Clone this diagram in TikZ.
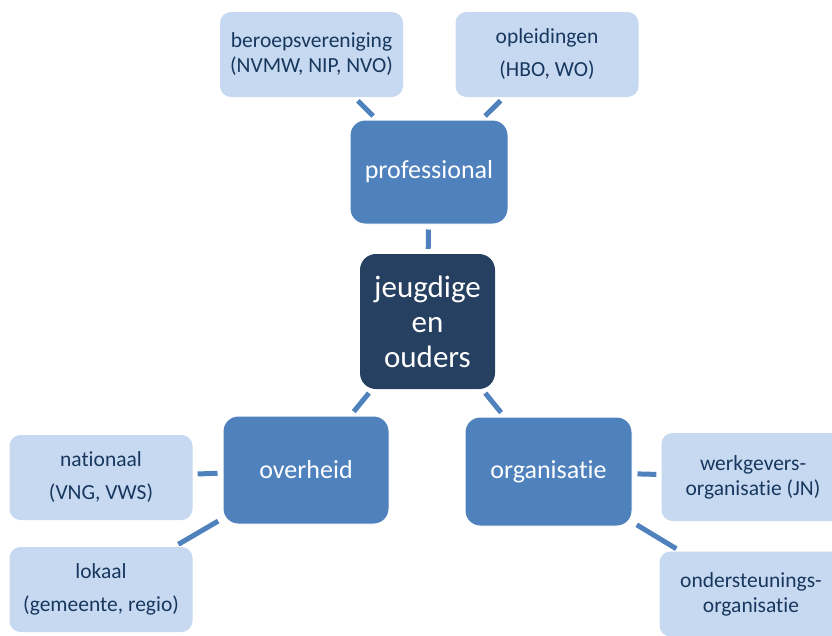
\documentclass[tikz,border=0pt]{standalone}
\usepackage{fontspec}
\setmainfont{Carlito}[Ligatures=NoCommon]
\usepackage{xcolor}
\definecolor{leaffill}{RGB}{198,217,241}
\definecolor{leaftext}{RGB}{23,55,94}
\definecolor{midfill}{RGB}{79,129,189}
\definecolor{corefill}{RGB}{38,64,97}
\definecolor{linkcol}{RGB}{79,129,189}

\begin{document}
\begin{tikzpicture}[x=1pt,y=-1pt,
  leafbox/.style={fill=leaffill,text=leaftext,rounded corners=11pt,minimum width=183pt,minimum height=85pt,inner sep=0pt,align=center,font={\fontsize{21.5}{25}\selectfont}},
  midbox/.style={fill=midfill,draw=white,line width=1pt,text=white,rounded corners=15pt,minimum width=166pt,minimum height=108pt,inner sep=0pt,align=center,font={\fontsize{26}{31}\selectfont}},
  corebox/.style={fill=corefill,text=white,rounded corners=16pt,minimum width=135pt,minimum height=135pt,inner sep=0pt,align=center,font={\fontsize{31}{35}\selectfont}},
  link/.style={draw=linkcol,line width=5pt,shorten <=5pt,shorten >=5pt}]
  \useasboundingbox (0,0) rectangle (832,635);
  \clip (0,0) rectangle (832,635);

  % centre and the three groups
  \node[corebox] (jeugd) at (427.5,321.5) {jeugdige\\en\\ouders};
  \node[midbox,minimum width=158pt,minimum height=104pt] (prof) at (429,172) {professional};
  \node[midbox] (overheid) at (306,470) {overheid};
  \node[midbox,minimum width=167pt,minimum height=109pt] (organisatie) at (548.5,471.5) {organisatie};

  % outer boxes
  \node[leafbox] (beroeps) at (311.5,54.5) {beroepsvereniging\\(NVMW, NIP, NVO)};
  \node[leafbox] (opleiding) at (547,54.5) {opleidingen\\[8pt](HBO, WO)};
  \node[leafbox] (nationaal) at (101,477.5) {nationaal\\[8pt](VNG, VWS)};
  \node[leafbox] (lokaal) at (101,589.5) {lokaal\\[8pt](gemeente, regio)};
  \node[leafbox,minimum height=88pt] (werkgevers) at (753,477) {werkgevers-\\organisatie (JN)};
  \node[leafbox] (ondersteuning) at (751,594) {ondersteunings-\\organisatie};

  \draw[link] (prof) -- (jeugd);
  \draw[link] (jeugd) -- (overheid);
  \draw[link] (jeugd) -- (organisatie);
  \draw[link] (beroeps) -- (prof);
  \draw[link] (opleiding) -- (prof);
  \draw[link] (nationaal) -- (overheid);
  \draw[link] (lokaal) -- (overheid);
  \draw[link] (organisatie) -- (werkgevers);
  \draw[link] (organisatie) -- (ondersteuning);
\end{tikzpicture}
\end{document}
